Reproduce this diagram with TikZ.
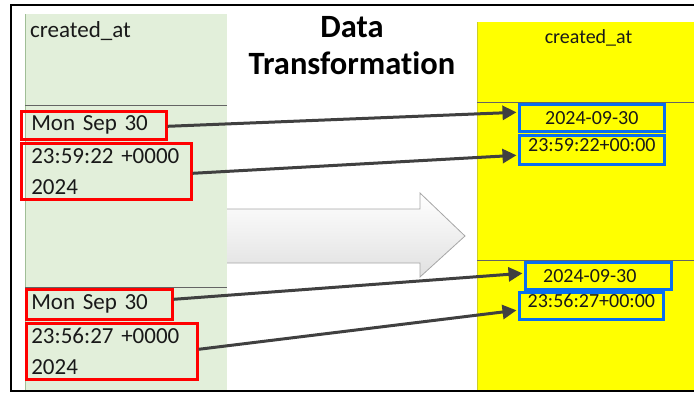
\documentclass[tikz,border=0pt]{standalone}
\usepackage{fontspec}
\setmainfont{Carlito}[Ligatures={NoCommon,NoContextual}]
\usetikzlibrary{arrows.meta,positioning}
\definecolor{cellgreen}{RGB}{226,239,218}
\definecolor{cellgreenedge}{RGB}{160,190,150}
\definecolor{xlyellow}{RGB}{255,255,0}
\definecolor{xlyellowedge}{RGB}{205,205,40}
\definecolor{boxblue}{RGB}{10,110,240}
\definecolor{linkgrey}{RGB}{64,64,64}
\definecolor{rulegrey}{RGB}{100,100,100}

\begin{document}
\begin{tikzpicture}[x=1pt,y=-1pt, node distance=1.4pt,
  cell/.style={font=\fontsize{23}{31}\selectfont,text=black!90},
  redbox/.style={draw=red,line width=2.6pt,anchor=north west,align=left,
                 inner xsep=#1,inner ysep=0pt,cell},
  bluebox/.style={draw=boxblue,line width=2.6pt,anchor=north west,inner sep=0pt,
                  font=\fontsize{20}{24}\selectfont,text=black!90},
  link/.style={-{Triangle[length=14pt,width=14pt]},linkgrey,line width=3pt}]
\useasboundingbox (0,0) rectangle (694,394);

% the two columns
\fill[cellgreen] (25,14) rectangle (227,391);
\draw[cellgreenedge,line width=1pt] (25.5,14) -- (25.5,391);
\fill[xlyellow] (477,22) rectangle (694,391);
\draw[xlyellowedge,line width=1pt] (477.5,22) -- (477.5,391);
\draw[rulegrey,line width=1pt] (25,105.5) -- (227,105.5) (25,287) -- (227,287);
\draw[rulegrey,line width=1pt] (477,102) -- (694,102) (477,260) -- (694,260);

% block arrow between them
\shadedraw[top color=white,bottom color=black!12,draw=black!35,line width=0.8pt]
  (227,209) -- (420,209) -- (420,193) -- (465,236) -- (420,277) -- (420,263) -- (227,263);

\draw[line width=2pt] (694,5) -- (11,5) -- (11,391) -- (694,391);

\node[cell,anchor=base west,inner sep=0pt] (hdl) at (30,37) {created\_at};
\node[font=\fontsize{20}{24}\selectfont,text=black!90,anchor=base,inner sep=0pt] (hdr) at (588.5,43) {created\_at};
\node[font=\bfseries\fontsize{32.5}{37}\selectfont,align=center,anchor=north,inner sep=0pt]
  (title) at (352,16) {Data\\Transformation};

\node[redbox=10pt,text width=125pt,minimum height=28pt] (mon1) at (20,110) {Mon Sep 30};
\node[redbox=10pt,text width=150pt,minimum height=56pt,below=of mon1.south west,anchor=north west]
  (time1) {23:59:22 +0000\\2024};
\node[redbox=5pt,text width=136pt,minimum height=30pt] (mon2) at (25,288) {Mon Sep 30};
\node[redbox=5pt,text width=161pt,minimum height=56pt,below=of mon2.south west,anchor=north west]
  (time2) {23:56:27 +0000\\2024};

\node[bluebox,minimum width=145pt,minimum height=27pt] (date1) at (518,103) {2024-09-30};
\node[bluebox,minimum width=145pt,minimum height=29pt,text height=13pt,text depth=10pt,
  below=of date1.south west,anchor=north west] (utc1) {23:59:22+00:00};
\node[bluebox,minimum width=146pt,minimum height=27pt] (date2) at (524,261) {2024-09-30\hspace*{17pt}};
\node[bluebox,minimum width=144pt,minimum height=27pt,text height=13pt,text depth=10pt]
  (utc2) at (518,291) {23:56:27+00:00};

\foreach \a/\as/\b/\bs in {mon1/-1/date1/5.5,time1/-2/utc1/-5.5,mon2/5/date2/2.5,time2/2/utc2/-4.5}
  \draw[link] ([yshift=\as pt]\a.east) -- ([xshift=-1.5pt,yshift=\bs pt]\b.west);
\end{tikzpicture}
\end{document}
